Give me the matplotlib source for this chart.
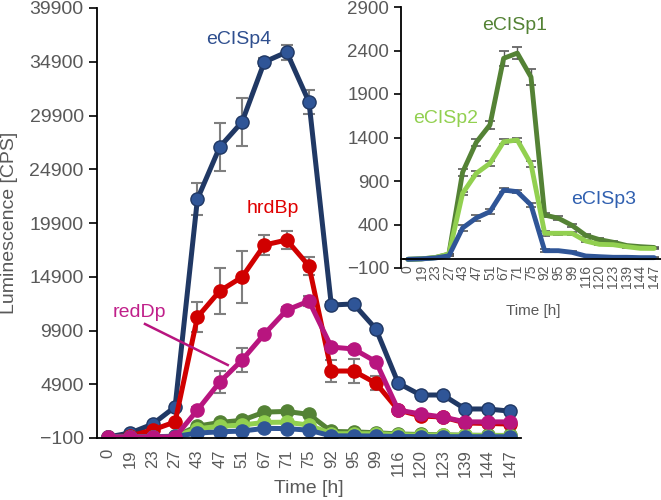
import matplotlib
matplotlib.use("Agg")
import matplotlib.pyplot as plt

plt.rcParams['font.family'] = ['Liberation Sans', 'DejaVu Sans']

times = ['0', '19', '23', '27', '43', '47', '51', '67', '71', '75',
         '92', '95', '99', '116', '120', '123', '139', '144', '147']

ecisp4 = [0, 370, 1200, 2800, 22130, 26970, 29300, 34880, 35800, 31150,
          12270, 12370, 10040, 5000, 3900, 3900, 2600, 2600, 2400]
ecisp4_err = [0, 0, 0, 0, 1500, 2200, 2200, 400, 700, 1150,
              300, 200, 300, 200, 200, 200, 150, 150, 150]

hrdbp = [0, 100, 650, 1400, 11150, 13570, 14870, 17850, 18320, 15900,
         6130, 6130, 5000, 2500, 1950, 1850, 1300, 1250, 1200]
hrdbp_err = [0, 0, 0, 0, 1400, 2100, 2400, 900, 800, 800,
             1000, 1150, 650, 200, 200, 150, 150, 100, 100]

reddp = [0, 0, 0, 0, 2500, 5100, 7150, 9570, 11800, 12640,
         8360, 8180, 7000, 2500, 2130, 1850, 1400, 1400, 1400]
reddp_err = [0, 0, 0, 0, 300, 1000, 1100, 300, 300, 500,
             300, 300, 300, 100, 100, 100, 100, 100, 100]

ecisp1 = [0, 5, 20, 60, 1000, 1345, 1545, 2310, 2370, 2095,
          509, 472, 390, 275, 226, 196, 158, 145, 136]
ecisp1_err = [0, 0, 0, 0, 40, 40, 50, 85, 73, 92,
              20, 20, 20, 15, 15, 15, 10, 10, 10]

ecisp2 = [0, 5, 20, 60, 758, 988, 1103, 1351, 1371, 1095,
          299, 299, 299, 210, 172, 168, 145, 126, 125]
ecisp2_err = [0, 0, 0, 0, 20, 30, 30, 30, 20, 30,
              30, 20, 20, 10, 10, 10, 10, 10, 10]

ecisp3 = [0, 5, 15, 40, 360, 475, 547, 796, 777, 624,
          99, 99, 80, 38, 30, 23, 23, 19, 19]
ecisp3_err = [0, 0, 0, 0, 40, 30, 30, 20, 20, 20,
              20, 10, 10, 5, 5, 5, 5, 5, 5]

navy = '#203864'
blue = '#2F5597'
red = '#D00000'
magenta = '#B8157F'
dgreen = '#548235'
lgreen = '#92D050'
grey = '#595959'
errc = '#7F7F7F'

x = list(range(len(times)))

fig = plt.figure(figsize=(6.61, 5.0), dpi=100)

# main chart
ax = fig.add_axes([97 / 661, 62 / 500, 424 / 661, 430 / 500])

series = [
    (ecisp4, ecisp4_err, navy, blue),
    (hrdbp, hrdbp_err, red, red),
    (ecisp1, ecisp1_err, dgreen, dgreen),
    (ecisp2, ecisp2_err, lgreen, lgreen),
    (ecisp3, ecisp3_err, blue, blue),
    (reddp, reddp_err, magenta, magenta),
]
for vals, err, lc, fc in series:
    ax.errorbar(x, vals, yerr=err, fmt='none', ecolor=errc, elinewidth=1.5,
                capsize=4.5, capthick=1.5, zorder=1)
    ax.plot(x, vals, color=lc, lw=3.6, marker='o', markersize=9.5,
            markerfacecolor=fc, markeredgecolor=lc, markeredgewidth=1.0, zorder=2)

ax.set_xlim(-0.5, len(times) - 0.5)
ax.set_ylim(-100, 39900)
ax.set_yticks(range(-100, 40000, 5000))
ax.set_xticks(x)
ax.set_xticklabels(times, rotation=90)
ax.tick_params(axis='x', length=0, pad=8, labelsize=12, labelcolor=grey)
ax.tick_params(axis='y', length=6, width=1.2, direction='out', labelsize=14, labelcolor=grey)
for s in ['top', 'right']:
    ax.spines[s].set_visible(False)
for s in ['left', 'bottom']:
    ax.spines[s].set_linewidth(1.3)
ax.set_xlabel('Time [h]', fontsize=14, color=grey, labelpad=2)
fig.text(10 / 661, 1 - 223 / 500, 'Luminescence [CPS]', rotation=90,
         ha='center', va='center', fontsize=14, color=grey)

ax.text(5.85, 37015, 'eCISp4', color='#2F4F8F', fontsize=14, ha='center', va='center')
ax.text(7.37, 21295, 'hrdBp', color='#E00000', fontsize=14, ha='center', va='center')
ax.text(1.38, 11620, 'redDp', color='#C0208A', fontsize=14, ha='center', va='center')
ax.plot([1.65, 5.36], [10505, 6690], color=magenta, lw=1.8)

# inset
ins = fig.add_axes([401 / 661, 232 / 500, 260 / 661, 261 / 500])
ins.patch.set_alpha(0)
ins.spines['bottom'].set_position(('data', 0))
for vals, err, lc in [(ecisp1, ecisp1_err, dgreen), (ecisp2, ecisp2_err, lgreen),
                      (ecisp3, ecisp3_err, blue)]:
    ins.errorbar(x, vals, yerr=err, fmt='none', ecolor=grey, elinewidth=1.0,
                 capsize=3.5, capthick=1.2, zorder=1)
    ins.plot(x, vals, color=lc, lw=3.5, solid_capstyle='round', zorder=2)

ins.set_xlim(-0.5, len(times) - 0.5)
ins.set_ylim(-100, 2900)
ins.set_yticks(range(-100, 3000, 500))
ins.set_xticks(x)
ins.set_xticklabels(times, rotation=90)
ins.tick_params(axis='x', length=0, pad=4, labelsize=10, labelcolor=grey)
ins.tick_params(axis='y', length=5, width=1.2, direction='out', labelsize=13.5, labelcolor=grey)
for s in ['top', 'right']:
    ins.spines[s].set_visible(False)
for s in ['left', 'bottom']:
    ins.spines[s].set_linewidth(1.3)
fig.text(533 / 661, 1 - 311 / 500, 'Time [h]', fontsize=11, color=grey,
         ha='center', va='center')

ins.text(7.8, 2692, 'eCISp1', color=dgreen, fontsize=14, ha='center', va='center')
ins.text(2.77, 1624, 'eCISp2', color=lgreen, fontsize=14, ha='center', va='center')
ins.text(14.3, 693, 'eCISp3', color='#3060B0', fontsize=14, ha='center', va='center')

fig.savefig('out.png', dpi=100)
